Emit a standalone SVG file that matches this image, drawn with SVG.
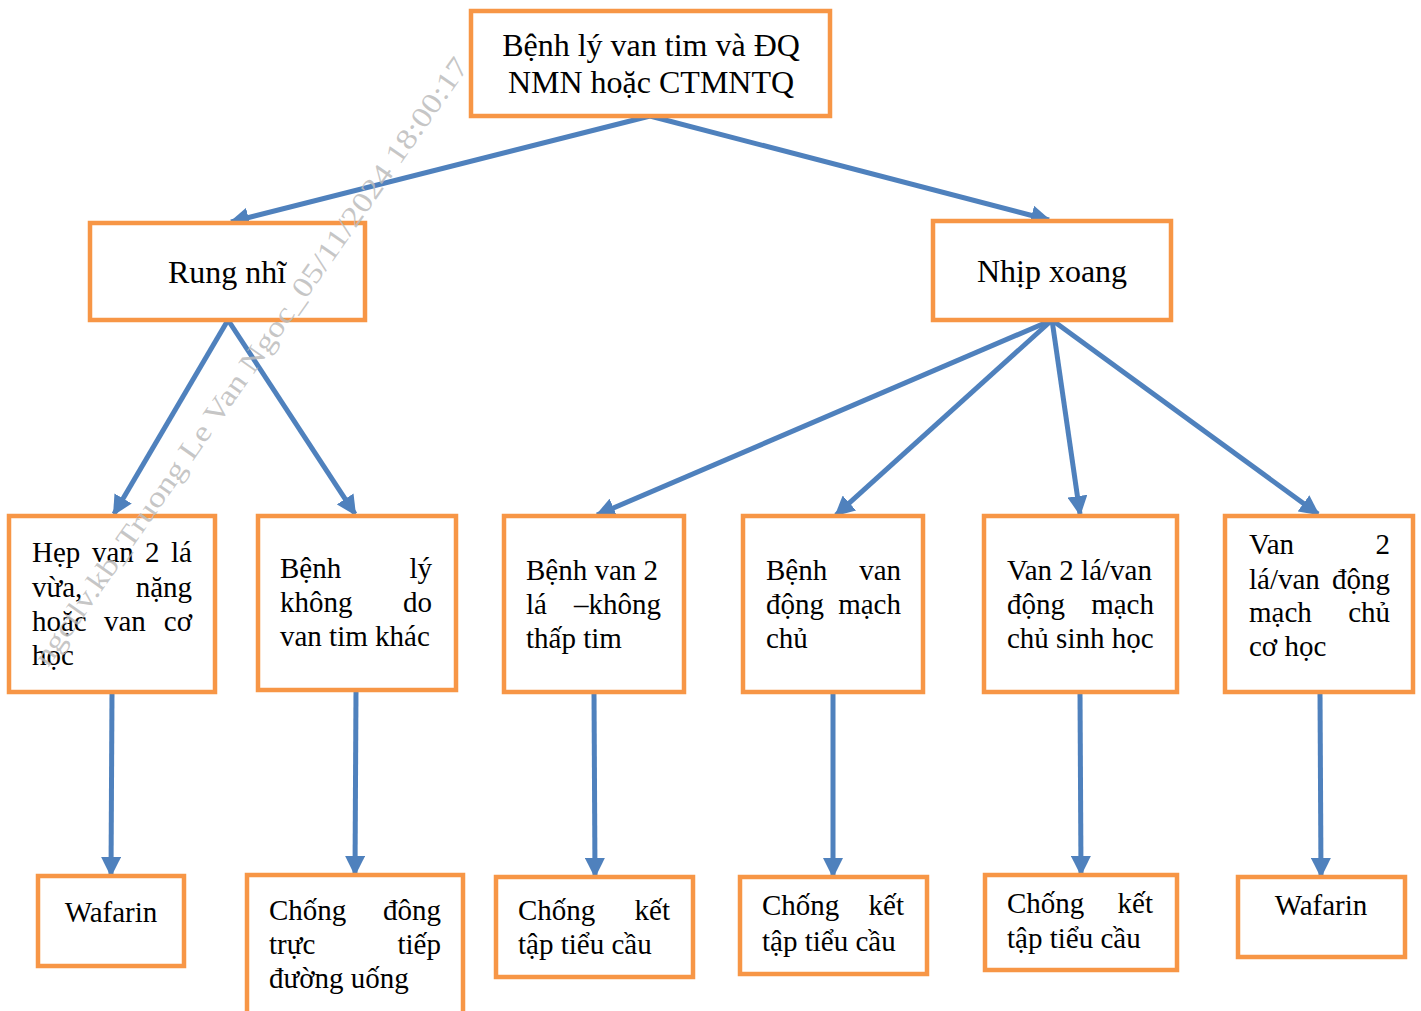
<svg xmlns="http://www.w3.org/2000/svg" width="1421" height="1011" viewBox="0 0 1421 1011">
<style>
.box{fill:#fff;stroke:#F79646;stroke-width:4.5}
text{font-family:"Liberation Serif","DejaVu Serif",serif;fill:#000}
.t{font-size:29px}
.tt{font-size:32px}
.e{text-anchor:end}
.m{text-anchor:middle}
.c{stroke:#4F81BD;stroke-width:5;fill:none;marker-end:url(#ah)}
.wm{font-size:29px;fill:#bcbcbc;fill-opacity:0.85}
</style>
<defs>
<marker id="ah" viewBox="0 0 10 10" refX="9" refY="5" markerUnits="userSpaceOnUse" markerWidth="20" markerHeight="20" orient="auto">
<path d="M0,0 L10,5 L0,10 z" fill="#4F81BD"/>
</marker>
</defs>
<rect width="1421" height="1011" fill="#fff"/>
<g id="connectors">
<line class="c" x1="650" y1="116" x2="231" y2="222"/>
<line class="c" x1="650" y1="116" x2="1049" y2="220"/>
<line class="c" x1="228" y1="320" x2="114" y2="514"/>
<line class="c" x1="228" y1="320" x2="355" y2="514"/>
<line class="c" x1="1052" y1="320" x2="597" y2="515"/>
<line class="c" x1="1052" y1="320" x2="836" y2="515"/>
<line class="c" x1="1052" y1="320" x2="1080" y2="514"/>
<line class="c" x1="1052" y1="320" x2="1318" y2="514"/>
<line class="c" x1="112" y1="692" x2="111" y2="875"/>
<line class="c" x1="356" y1="690" x2="355" y2="874"/>
<line class="c" x1="594" y1="692" x2="595" y2="876"/>
<line class="c" x1="833" y1="692" x2="833" y2="876"/>
<line class="c" x1="1080" y1="692" x2="1081" y2="874"/>
<line class="c" x1="1320" y1="692" x2="1321" y2="876"/>
</g>
<g id="n-root">
<rect class="box" x="471" y="11" width="359" height="105"/>
<text class="tt m" x="651" y="56">Bệnh lý van tim và ĐQ</text>
<text class="tt m" x="651" y="93">NMN hoặc CTMNTQ</text>
</g>
<g id="n-rungnhi">
<rect class="box" x="90" y="223" width="275" height="97"/>
<text class="tt m" x="227" y="283">Rung nhĩ</text>
</g>
<g id="n-nhipxoang">
<rect class="box" x="933" y="221" width="238" height="99"/>
<text class="tt m" x="1052" y="282">Nhịp xoang</text>
</g>
<g id="n-hepvan">
<rect class="box" x="9" y="516" width="206" height="176"/>
<text class="t" y="562"><tspan x="32">Hẹp</tspan><tspan x="92">van</tspan><tspan x="145">2</tspan></text>
<text class="t e" x="192" y="562">lá</text>
<text class="t" x="32" y="597">vừa,</text>
<text class="t e" x="192" y="597">nặng</text>
<text class="t" y="631"><tspan x="32">hoặc</tspan><tspan x="104">van</tspan></text>
<text class="t e" x="192" y="631">cơ</text>
<text class="t" x="32" y="665">học</text>
</g>
<g id="n-benhly">
<rect class="box" x="258" y="516" width="198" height="174"/>
<text class="t" x="280" y="578">Bệnh</text>
<text class="t e" x="432" y="578">lý</text>
<text class="t" x="280" y="612">không</text>
<text class="t e" x="432" y="612">do</text>
<text class="t" x="280" y="646">van tim khác</text>
</g>
<g id="n-benhvan2la">
<rect class="box" x="504" y="516" width="180" height="176"/>
<text class="t" x="526" y="580">Bệnh van 2</text>
<text class="t" x="526" y="614">lá</text>
<text class="t e" x="661" y="614">–không</text>
<text class="t" x="526" y="648">thấp tim</text>
</g>
<g id="n-benhvandmc">
<rect class="box" x="743" y="516" width="180" height="176"/>
<text class="t" x="766" y="580">Bệnh</text>
<text class="t e" x="901" y="580">van</text>
<text class="t" x="766" y="614">động</text>
<text class="t e" x="901" y="614">mạch</text>
<text class="t" x="766" y="648">chủ</text>
</g>
<g id="n-vansinhhoc">
<rect class="box" x="984" y="516" width="193" height="176"/>
<text class="t" x="1007" y="580">Van 2 lá/van</text>
<text class="t" x="1007" y="614">động</text>
<text class="t e" x="1154" y="614">mạch</text>
<text class="t" x="1007" y="648">chủ sinh học</text>
</g>
<g id="n-vancohoc">
<rect class="box" x="1225" y="516" width="188" height="176"/>
<text class="t" x="1249" y="554">Van</text>
<text class="t e" x="1390" y="554">2</text>
<text class="t" x="1249" y="589">lá/van</text>
<text class="t e" x="1390" y="589">động</text>
<text class="t" x="1249" y="622">mạch</text>
<text class="t e" x="1390" y="622">chủ</text>
<text class="t" x="1249" y="656">cơ học</text>
</g>
<g id="n-wafarin1">
<rect class="box" x="38" y="876" width="146" height="90"/>
<text class="t m" x="111" y="922">Wafarin</text>
</g>
<g id="n-chongdong">
<rect class="box" x="247" y="875" width="216" height="145"/>
<text class="t" x="269" y="920">Chống</text>
<text class="t e" x="441" y="920">đông</text>
<text class="t" x="269" y="954">trực</text>
<text class="t e" x="441" y="954">tiếp</text>
<text class="t" x="269" y="988">đường uống</text>
</g>
<g id="n-chongket1">
<rect class="box" x="496" y="877" width="197" height="100"/>
<text class="t" x="518" y="920">Chống</text>
<text class="t e" x="670" y="920">kết</text>
<text class="t" x="518" y="954">tập tiểu cầu</text>
</g>
<g id="n-chongket2">
<rect class="box" x="740" y="877" width="187" height="97"/>
<text class="t" x="762" y="915">Chống</text>
<text class="t e" x="904" y="915">kết</text>
<text class="t" x="762" y="951">tập tiểu cầu</text>
</g>
<g id="n-chongket3">
<rect class="box" x="985" y="875" width="192" height="95"/>
<text class="t" x="1007" y="913">Chống</text>
<text class="t e" x="1153" y="913">kết</text>
<text class="t" x="1007" y="948">tập tiểu cầu</text>
</g>
<g id="n-wafarin2">
<rect class="box" x="1238" y="877" width="167" height="80"/>
<text class="t m" x="1321" y="915">Wafarin</text>
</g>
<text class="wm" x="48" y="668" transform="rotate(-55 48 668)" textLength="735" lengthAdjust="spacingAndGlyphs">ngctlv.kb_Truong Le Van Ngoc_05/11/2024 18:00:17</text>
</svg>
